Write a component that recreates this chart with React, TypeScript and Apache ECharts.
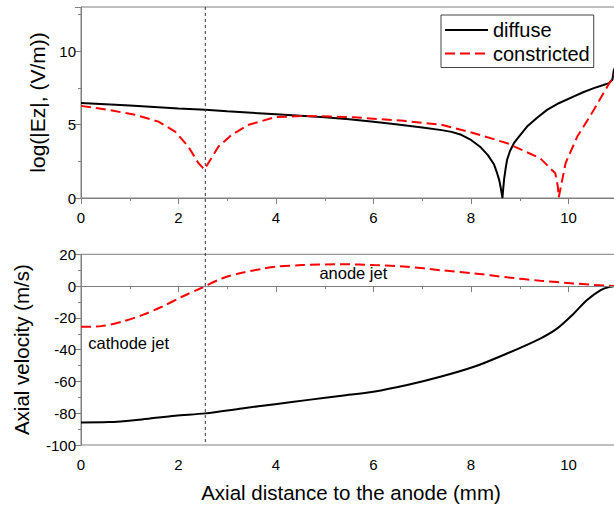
import React, { useEffect, useRef } from 'react';
import * as echarts from 'echarts';

// Top panel: log(|Ez|) vs axial distance (mm)
const diffuseEzX = [0, 0.5, 1, 1.5, 2, 2.55, 3, 3.5, 4, 4.5, 5, 5.5, 6, 6.5, 7, 7.4, 7.6, 7.8, 8.0, 8.2, 8.35, 8.47, 8.53, 8.58, 8.61, 8.63, 8.645, 8.66, 8.68, 8.71, 8.74, 8.8, 8.88, 9.0, 9.15, 9.35, 9.56, 9.8, 10.1, 10.3, 10.52, 10.7, 10.83, 10.9, 10.93, 11];
const diffuseEzY = [6.46, 6.38, 6.3, 6.2, 6.1, 6.0, 5.9, 5.8, 5.7, 5.6, 5.5, 5.36, 5.19, 5.0, 4.8, 4.62, 4.5, 4.3, 3.95, 3.45, 2.9, 2.3, 1.75, 1.2, 0.7, 0.3, 0, 0.6, 1.3, 2.0, 2.6, 3.2, 3.73, 4.25, 4.86, 5.45, 6.0, 6.45, 6.9, 7.2, 7.48, 7.67, 7.82, 8.05, 8.7, 9.2];
const constrEzX = [0, 0.56, 1.11, 1.59, 1.93, 2.2, 2.41, 2.53, 2.61, 2.82, 3.09, 3.44, 3.98, 4.56, 5.59, 6.62, 7.37, 8.06, 8.74, 9.42, 9.73, 9.78, 9.8, 9.94, 10.18, 10.52, 10.8, 10.94, 11];
const constrEzY = [6.27, 6.0, 5.66, 5.2, 4.52, 3.5, 2.37, 1.95, 2.37, 3.5, 4.3, 4.98, 5.5, 5.59, 5.5, 5.25, 5.0, 4.41, 3.73, 2.7, 1.68, 0.8, 0.05, 2.37, 4.18, 6.0, 7.6, 8.4, 8.7];

// Bottom panel: axial velocity (m/s)
const diffuseVX = [0, 0.56, 1.25, 1.93, 2.55, 3.3, 3.98, 4.67, 5.35, 6.0, 6.69, 7.37, 8.06, 8.74, 9.42, 9.77, 10.11, 10.38, 10.66, 10.85, 11];
const diffuseVY = [-85.8, -85.6, -83.9, -81.6, -80.1, -77, -74.3, -71.6, -69, -66.5, -62.3, -57.1, -50.8, -42.4, -33, -26.6, -17.2, -8.8, -2.5, -0.5, 0];
const constrVX = [0, 0.42, 0.84, 1.25, 1.66, 2.07, 2.48, 2.89, 3.3, 3.71, 4.0, 4.53, 5.35, 6.0, 6.69, 7.37, 8.06, 8.74, 9.42, 10.1, 10.8, 11];
const constrVY = [-25.6, -25.2, -22.4, -18.3, -13, -6.7, -1.05, 4.8, 8.4, 10.8, 12.2, 13.2, 13.8, 13.2, 12.2, 10, 8.0, 5.5, 3.4, 1.7, 0.2, 0];

const vlineX = 2.55;
const cathodeLabel = { text: 'cathode jet', x: 0.15, y: -36 };
const anodeLabel = { text: 'anode jet', x: 4.89, y: 8 };

const FONT = '"Liberation Sans", Arial, sans-serif';
const GRAY = '#7f7f7f';

const pair = (xs: number[], ys: number[]) => xs.map((x, i) => [x, ys[i]]);

export default function App() {
  const ref = useRef<HTMLDivElement>(null);
  useEffect(() => {
    const chart = echarts.init(ref.current!, null, { renderer: 'svg' });
    const xAxis = (gridIndex: number, showName: boolean) => ({
      type: 'value',
      gridIndex,
      min: 0,
      max: 12,
      interval: 2,
      axisLine: { lineStyle: { color: GRAY, width: 1 } },
      axisTick: { length: 6, lineStyle: { color: GRAY } },
      minorTick: { show: true, splitNumber: 2, length: 3, lineStyle: { color: GRAY } },
      splitLine: { show: false },
      axisLabel: { color: '#000', fontSize: 15, fontFamily: FONT, margin: 12, showMaxLabel: false },
      name: showName ? 'Axial distance to the anode (mm)' : '',
      nameLocation: 'middle',
      nameGap: 37,
      nameTextStyle: { color: '#000', fontSize: 20.5, fontFamily: FONT, padding: [0, 45, 0, 0] },
    });
    const yAxis = (gridIndex: number, min: number, max: number, interval: number, name: string, nameGap: number, nameSize: number) => ({
      type: 'value',
      gridIndex,
      min,
      max,
      interval,
      axisLine: { show: true, lineStyle: { color: GRAY, width: 1 } },
      axisTick: { show: true, length: 6, lineStyle: { color: GRAY } },
      minorTick: { show: true, splitNumber: 2, length: 3, lineStyle: { color: GRAY } },
      splitLine: { show: false },
      axisLabel: { color: '#000', fontSize: 15, fontFamily: FONT, margin: 5, showMaxLabel: max % interval === 0 },
      name,
      nameLocation: 'middle',
      nameGap,
      nameTextStyle: { color: '#000', fontSize: nameSize, fontFamily: FONT },
    });
    const black = { color: '#000', width: 2, type: 'solid' };
    const red = { color: '#ff0000', width: 2, type: [10, 5] };
    chart.setOption({
      animation: false,
      backgroundColor: '#fff',
      grid: [
        { left: 81, top: 7, width: 585, height: 191, show: true, borderColor: GRAY, borderWidth: 1, containLabel: false, outerBoundsMode: 'none' },
        { left: 81, top: 254.3, width: 585, height: 190.7, show: true, borderColor: GRAY, borderWidth: 1, containLabel: false, outerBoundsMode: 'none' },
      ],
      xAxis: [xAxis(0, false), xAxis(1, true)],
      yAxis: [
        yAxis(0, 0, 13, 5, 'log(|Ez|, (V/m))', 33, 21),
        yAxis(1, -100, 20, 20, 'Axial velocity (m/s)', 49, 20.5),
      ],
      legend: {
        data: ['diffuse', 'constricted'],
        orient: 'vertical',
        left: 441,
        top: 15,
        padding: [5, 4, 4, 3],
        itemWidth: 43,
        itemHeight: 14,
        itemGap: 3.5,
        borderColor: '#444',
        borderWidth: 1,
        backgroundColor: '#fff',
        itemStyle: { opacity: 0 },
        textStyle: { color: '#000', fontSize: 20, fontFamily: FONT, lineHeight: 20 },
      },
      series: [
        { name: 'diffuse', type: 'line', xAxisIndex: 0, yAxisIndex: 0, data: pair(diffuseEzX, diffuseEzY), showSymbol: false, symbol: 'none', lineStyle: black, itemStyle: { color: '#000' } },
        { name: 'constricted', type: 'line', xAxisIndex: 0, yAxisIndex: 0, data: pair(constrEzX, constrEzY), showSymbol: false, symbol: 'none', lineStyle: red, itemStyle: { color: '#ff0000' } },
        {
          name: 'diffuse', type: 'line', xAxisIndex: 1, yAxisIndex: 1, data: pair(diffuseVX, diffuseVY), showSymbol: false, symbol: 'none', smooth: 0.3, lineStyle: black, itemStyle: { color: '#000' },
          markLine: { silent: true, symbol: 'none', label: { show: false }, lineStyle: { color: GRAY, type: 'solid', width: 1 }, data: [{ yAxis: 0 }] },
        },
        { name: 'constricted', type: 'line', xAxisIndex: 1, yAxisIndex: 1, data: pair(constrVX, constrVY), showSymbol: false, symbol: 'none', smooth: 0.3, lineStyle: red, itemStyle: { color: '#ff0000' } },
      ],
    });
    const vx = chart.convertToPixel({ xAxisIndex: 0 }, vlineX) as number;
    const vTop = chart.convertToPixel({ yAxisIndex: 0 }, 13) as number;
    const vBot = chart.convertToPixel({ yAxisIndex: 1 }, -100) as number;
    const lbl = (l: { text: string; x: number; y: number }) => {
      const p = chart.convertToPixel({ xAxisIndex: 1, yAxisIndex: 1 }, [l.x, l.y]) as number[];
      return {
        type: 'text', x: p[0], y: p[1], z: 100,
        style: { text: l.text, fill: '#000', fontSize: 16.5, fontFamily: FONT, verticalAlign: 'middle', align: 'left' },
      };
    };
    chart.setOption({
      graphic: [
        { type: 'line', z: 50, shape: { x1: vx, y1: vTop, x2: vx, y2: vBot }, style: { stroke: '#333', lineWidth: 1, lineDash: [3, 3] } },
        lbl(cathodeLabel),
        lbl(anodeLabel),
      ],
    });
    return () => chart.dispose();
  }, []);
  return <div ref={ref} style={{ width: 614, height: 508, position: 'absolute', left: 0, top: 0 }} />;
}
